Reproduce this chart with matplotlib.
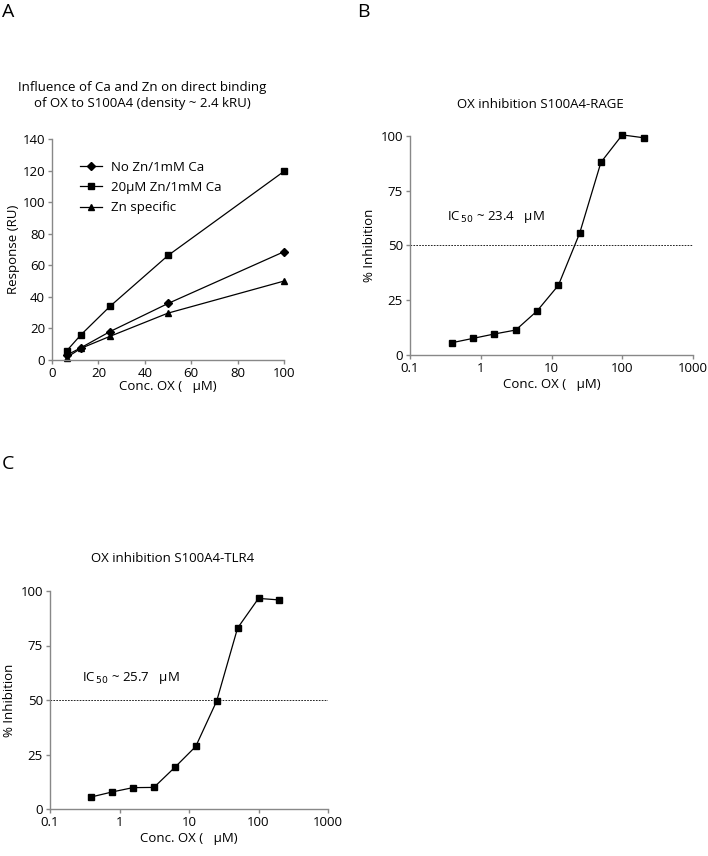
import matplotlib
matplotlib.use("Agg")
import matplotlib.pyplot as plt

plt.rcParams['font.family'] = ['Open Sans', 'DejaVu Sans']

# Panel A data
conc_a = [6.25, 12.5, 25, 50, 100]
no_zn = [3, 7.8, 18, 35.8, 68.6]
zn20 = [5.7, 16, 34, 66.2, 119.5]
zn_specific = [1.5, 7.4, 15, 29.7, 50]
a_xticks = [0, 20, 40, 60, 80, 100]
a_yticks = [0, 20, 40, 60, 80, 100, 120, 140]

# Panel B data
conc_bc = [0.39, 0.78, 1.56, 3.125, 6.25, 12.5, 25, 50, 100, 200]
rage = [5.6, 7.6, 9.6, 11.4, 20.1, 31.8, 55.6, 88, 100.5, 99.2]
# Panel C data
tlr4 = [5.5, 7.8, 9.8, 9.9, 19.1, 28.7, 49.5, 83, 96.6, 95.9]
log_xticks = [0.1, 1, 10, 100, 1000]
log_xticklabels = ['0.1', '1', '10', '100', '1000']
inh_yticks = [0, 25, 50, 75, 100]

W, H = 708, 856
fig = plt.figure(figsize=(W / 100, H / 100), dpi=100)

spine_col = '#888888'
fs = 9.5

def box(l, r, t, b):
    return [l / W, 1 - b / H, (r - l) / W, (b - t) / H]

def style(ax):
    for s in ['top', 'right']:
        ax.spines[s].set_visible(False)
    for s in ['left', 'bottom']:
        ax.spines[s].set_color(spine_col)
        ax.spines[s].set_linewidth(1.0)
    ax.tick_params(axis='both', direction='out', color=spine_col, length=3,
                   width=1.0, labelsize=fs, pad=2)
    ax.tick_params(axis='x', which='minor', length=0)

# ---------- Panel A ----------
axA = fig.add_axes(box(52, 284, 139, 360))
style(axA)
lA1, = axA.plot(conc_a, no_zn, '-D', color='black', lw=0.9, ms=4, clip_on=False)
lA2, = axA.plot(conc_a, zn20, '-s', color='black', lw=0.9, ms=5, clip_on=False)
lA3, = axA.plot(conc_a, zn_specific, '-^', color='black', lw=0.9, ms=5, clip_on=False)
axA.set_xlim(0, 100)
axA.set_ylim(0, 140)
axA.set_xticks(a_xticks)
axA.set_yticks(a_yticks)
axA.set_xlabel('Conc. OX (   µM)', fontsize=fs, labelpad=0)
axA.set_ylabel('Response (RU)', fontsize=fs, labelpad=2)
leg = axA.legend([lA1, lA2, lA3], ['No Zn/1mM Ca', '20µM Zn/1mM Ca', 'Zn specific'],
                 loc='upper left', bbox_to_anchor=(0.10, 0.925), frameon=False,
                 fontsize=fs, handlelength=1.6, handletextpad=0.7, labelspacing=0.55,
                 borderaxespad=0)
fig.text(142 / W, 1 - 95 / H, 'Influence of Ca and Zn on direct binding\nof OX to S100A4 (density ~ 2.4 kRU)',
         ha='center', va='center', fontsize=fs, linespacing=1.3)

# ---------- Panel B ----------
axB = fig.add_axes(box(410, 693, 136, 355))
style(axB)
axB.plot(conc_bc, rage, '-s', color='black', lw=0.9, ms=5, clip_on=False)
axB.axhline(50, color='black', lw=0.6, ls=(0, (2, 1.5)))
axB.set_xscale('log')
axB.set_xlim(0.1, 1000)
axB.set_ylim(0, 100)
axB.set_xticks(log_xticks)
axB.set_xticklabels(log_xticklabels)
axB.set_yticks(inh_yticks)
axB.set_xlabel('Conc. OX (   µM)', fontsize=fs, labelpad=2)
axB.set_ylabel('% Inhibition', fontsize=fs, labelpad=3)
axB.text(447 / W, 1 - 217 / H, r'IC$_{\,50}$ ~ 23.4   µM', transform=fig.transFigure,
         ha='left', va='center', fontsize=fs)
fig.text(540 / W, 1 - 105 / H, 'OX inhibition S100A4-RAGE', ha='center', va='center', fontsize=fs)

# ---------- Panel C ----------
axC = fig.add_axes(box(50, 328, 591, 809))
style(axC)
axC.plot(conc_bc, tlr4, '-s', color='black', lw=0.9, ms=5, clip_on=False)
axC.axhline(50, color='black', lw=0.6, ls=(0, (2, 1.5)))
axC.set_xscale('log')
axC.set_xlim(0.1, 1000)
axC.set_ylim(0, 100)
axC.set_xticks(log_xticks)
axC.set_xticklabels(log_xticklabels)
axC.set_yticks(inh_yticks)
axC.set_xlabel('Conc. OX (   µM)', fontsize=fs, labelpad=2)
axC.set_ylabel('% Inhibition', fontsize=fs, labelpad=3)
axC.text(82 / W, 1 - 678 / H, r'IC$_{\,50}$ ~ 25.7   µM', transform=fig.transFigure,
         ha='left', va='center', fontsize=fs)
fig.text(173 / W, 1 - 558 / H, 'OX inhibition S100A4-TLR4', ha='center', va='center', fontsize=fs)

# Panel letters
fig.text(2 / W, 1 - 12 / H, 'A', fontsize=14, ha='left', va='center')
fig.text(357 / W, 1 - 12 / H, 'B', fontsize=14, ha='left', va='center')
fig.text(2 / W, 1 - 464 / H, 'C', fontsize=14, ha='left', va='center')

fig.savefig('out.png', dpi=100, facecolor='white')
